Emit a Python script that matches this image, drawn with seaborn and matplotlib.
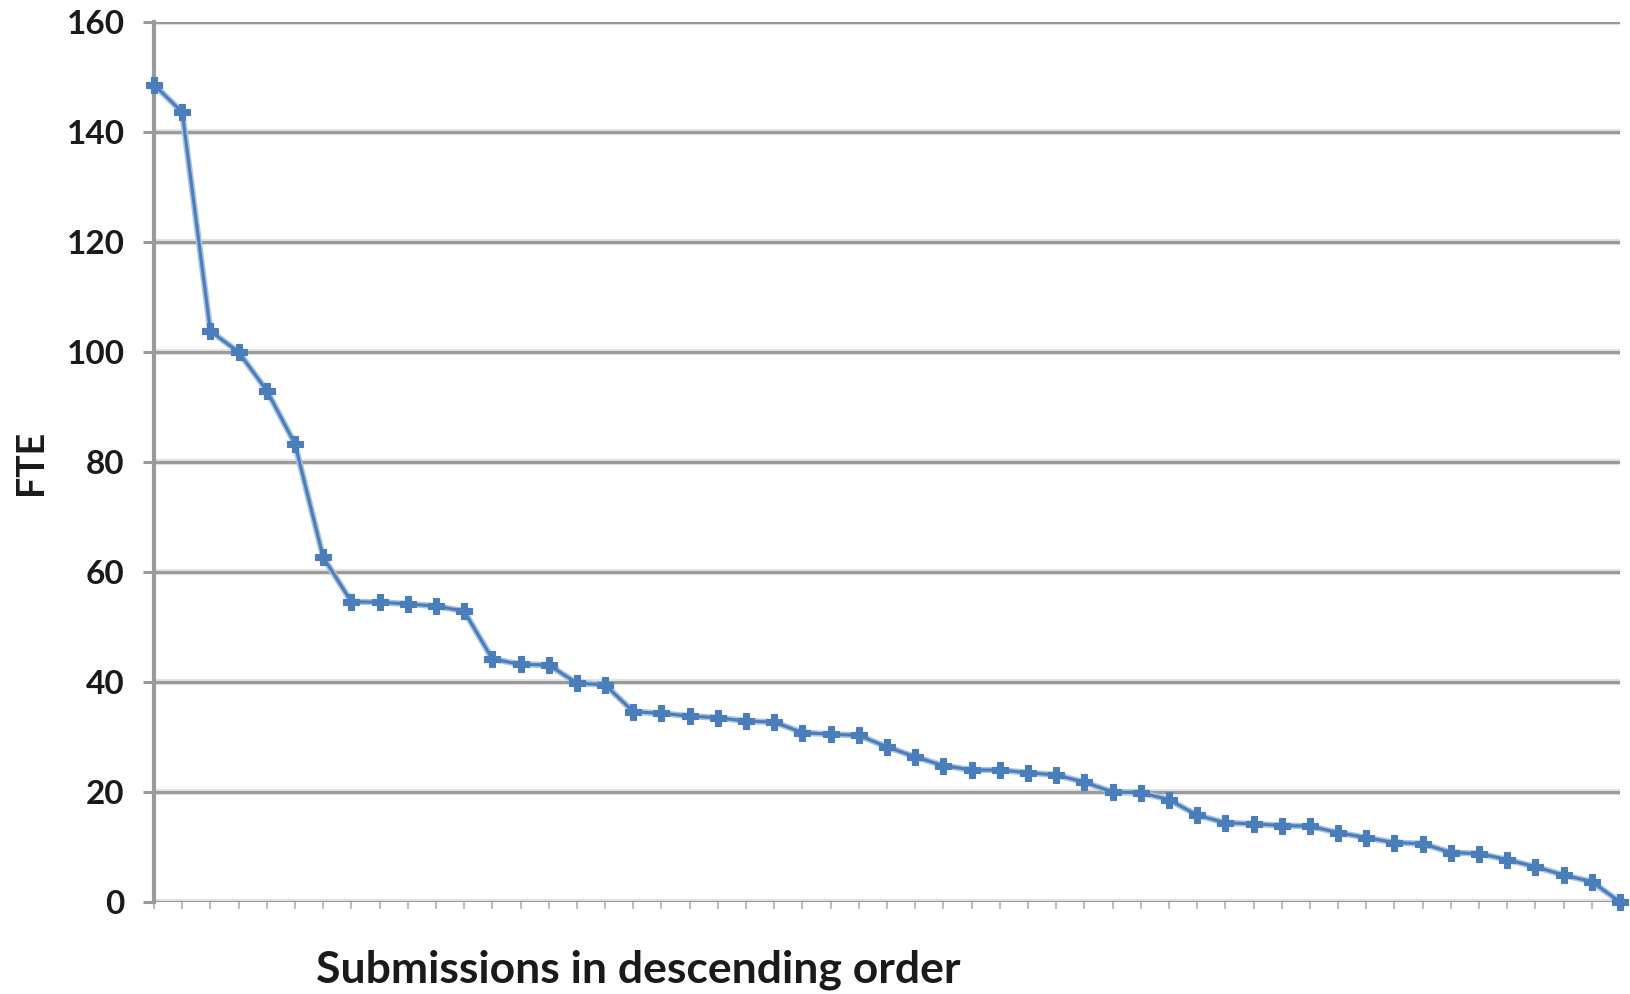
import matplotlib
matplotlib.use("Agg")
import matplotlib.pyplot as plt
import seaborn as sns
import pandas as pd
import numpy as np

# Data (FTE per submission, sorted descending)
fte_values = [148.6, 143.6, 103.8, 100.0, 93.0, 83.3, 62.7, 54.6, 54.5, 54.2,
              53.8, 52.9, 44.2, 43.2, 43.1, 39.8, 39.5, 34.6, 34.3, 33.8,
              33.5, 32.9, 32.7, 30.8, 30.5, 30.3, 28.2, 26.4, 24.8, 24.0,
              24.0, 23.5, 23.1, 21.8, 20.0, 19.9, 18.6, 15.8, 14.4, 14.2,
              13.9, 13.8, 12.6, 11.7, 10.8, 10.6, 9.0, 8.8, 7.7, 6.4,
              4.9, 3.7, 0.0]
submission_rank = list(range(len(fte_values)))
y_ticks = [0, 20, 40, 60, 80, 100, 120, 140, 160]
x_label = "Submissions in descending order"
y_label = "FTE"

sns.set_theme(style="white")
plt.rcParams['font.family'] = ['Lato', 'DejaVu Sans']

df = pd.DataFrame({"rank": submission_rank, "FTE": fte_values})

fig = plt.figure(figsize=(16.3, 9.94), dpi=100)
ax = fig.add_axes([154 / 1630, 1 - 902 / 994, (1620 - 154) / 1630, (902 - 22) / 994])

grid_color = "#9a9a9a"
for yv in y_ticks:
    ax.axhline(yv, color="#e2e2e2", linewidth=4.5, zorder=0.5)
    ax.axhline(yv, color=grid_color, linewidth=2.2, zorder=1)

sns.lineplot(data=df, x="rank", y="FTE", ax=ax, color="#a9c1e2", linewidth=4.5,
             zorder=2, clip_on=False)
sns.lineplot(data=df, x="rank", y="FTE", ax=ax, color="#4a7ebb", linewidth=2.2,
             marker="P", markersize=12, markeredgewidth=0.8, markeredgecolor="#4a7ebb",
             zorder=3, clip_on=False)

ax.set_xlim(0, len(fte_values) - 1)
ax.set_ylim(0, 160)
ax.set_yticks(y_ticks)
ax.set_yticklabels([str(v) for v in y_ticks], fontsize=24, fontweight="bold", color="#1a1a1a")
ax.set_xticks(submission_rank)
ax.set_xticklabels([])

for side in ["top", "right", "bottom"]:
    ax.spines[side].set_visible(False)
ax.spines["left"].set_color(grid_color)
ax.spines["left"].set_linewidth(3)

ax.tick_params(axis="y", length=8, width=2.2, color=grid_color, pad=13, left=True)
ax.tick_params(axis="x", length=5, width=1.5, color="#bdbdbd", bottom=True, direction="out")

ax.set_ylabel(y_label, fontsize=27, fontweight="bold", color="#1a1a1a")
ax.yaxis.set_label_coords(-0.072, 0.5)
ax.set_xlabel(x_label, fontsize=32, fontweight="bold", color="#1a1a1a")
ax.xaxis.set_label_coords(0.33, -0.054)

fig.savefig("out.png", dpi=100, facecolor="white")
